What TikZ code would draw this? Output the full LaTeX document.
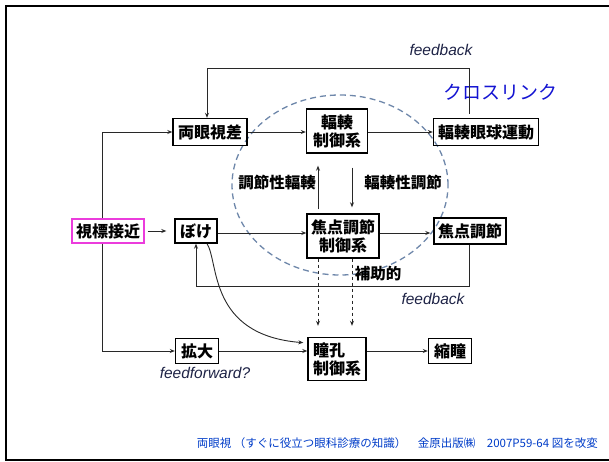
\documentclass[tikz,border=0pt]{standalone}
\usepackage{fontspec}
\setmainfont{Liberation Sans}
\newfontfamily\jp{Noto Sans CJK JP}
\usetikzlibrary{arrows.meta,calc}
\definecolor{dashblue}{RGB}{110,135,170}
\definecolor{mag}{RGB}{235,60,220}
\definecolor{fbcol}{RGB}{30,35,70}
\definecolor{xblue}{RGB}{20,20,210}
\definecolor{footblue}{RGB}{0,60,200}
\definecolor{linegray}{RGB}{40,40,40}
\tikzset{
  box/.style={draw, line width=1.4pt, inner sep=0pt, align=center,
    font=\jp\bfseries\fontsize{16}{18}\selectfont},
  arr/.style={draw=linegray, line width=0.9pt, -{Stealth[length=5pt,width=4pt]}},
  lbl/.style={font=\jp\bfseries\fontsize{15.5}{17}\selectfont, inner sep=0pt},
  fb/.style={font=\itshape\fontsize{15.5}{17}\selectfont, text=fbcol, inner sep=0pt},
  frame/.style={line width=2.2pt, black},
}
\begin{document}
\begin{tikzpicture}[x=1pt,y=-1pt]
\useasboundingbox (0,0) rectangle (609,462);
% frame
\draw[frame] (609,6) -- (6,6) -- (6,460) -- (609,460);
% dashed ellipse
\draw[dashblue, line width=1.3pt, dash pattern=on 6pt off 4pt] (340,185) ellipse [x radius=108pt, y radius=90pt];
% nodes
\node[box, minimum width=74pt, minimum height=27pt] (ryo) at (210,132) {両眼視差};
\node[box, minimum width=61pt, minimum height=44pt] (vcs) at (337,131) {輻輳\\制御系};
\node[box, minimum width=105pt, minimum height=27pt] (vem) at (486,132) {輻輳眼球運動};
\node[box, draw=mag, minimum width=72pt, minimum height=24pt] (shi) at (108,231) {視標接近};
\node[box, minimum width=42pt, minimum height=24pt] (boke) at (196,231) {ぼけ};
\node[box, minimum width=72pt, minimum height=44pt] (acs) at (343,236) {焦点調節\\制御系};
\node[box, minimum width=72pt, minimum height=26pt] (acc) at (470,231) {焦点調節};
\node[box, minimum width=43pt, minimum height=25pt] (kaku) at (197,351) {拡大};
\node[box, align=left, minimum width=58pt, minimum height=43pt] (pcs) at (337,359) {瞳孔\\制御系};
\node[box, minimum width=43pt, minimum height=25pt] (shuku) at (450,351) {縮瞳};
% labels
\node[fb] (fbtop) at (441,50) {feedback};
\node[font=\jp\fontsize{19}{21}\selectfont, text=xblue, inner sep=0pt] (cross) at (500,92) {クロスリンク};
\node[lbl] (l1) at (277,183) {調節性輻輳};
\node[lbl] (l2) at (403,183) {輻輳性調節};
\node[lbl] (l3) at (378,274) {補助的};
\node[fb] (fbbot) at (433,299) {feedback};
\node[fb] (ff) at (205,373) {feedforward?};
\node[anchor=east, font=\jp\fontsize{11.5}{13}\selectfont, text=footblue, inner sep=0pt] (foot) at (598,443) {両眼視 （すぐに役立つ眼科診療の知識）　金原出版㈱　2007P59-64 図を改変};
% connectors
\draw[arr] (ryo.east) -- (ryo.east -| vcs.west);
\draw[arr] (vcs.east |- ryo.east) -- (vcs.east |- ryo.east -| vem.west);
\draw[arr, shorten <=3pt, shorten >=8pt] (shi.east) -- (boke.west);
\draw[arr] (boke.east |- 0,233) -- (acs.west |- 0,233);
\draw[arr, shorten >=3pt] (acs.east |- 0,233) -- (acc.west |- 0,233);
\draw[arr, shorten <=4pt, shorten >=12pt] ([xshift=-25pt]acs.north) -- ([xshift=-25pt]acs.north |- vcs.south);
\draw[arr, shorten <=14pt, shorten >=6pt] ([xshift=9pt]acs.north |- vcs.south) -- ([xshift=9pt]acs.north);
\draw[arr, dashed, shorten >=11pt] ([xshift=-25pt]acs.south) -- ([xshift=-25pt]acs.south |- pcs.north);
\draw[arr, dashed, shorten >=11pt] ([xshift=9pt]acs.south) -- ([xshift=9pt]acs.south |- pcs.north);
\draw[arr] ([xshift=-6pt]shi.north) |- (ryo.west);
\draw[arr] ([xshift=-6pt]shi.south) |- (kaku.west);
\draw[arr] (kaku.east) -- (kaku.east -| pcs.west);
\draw[arr] (pcs.east |- kaku.east) -- (shuku.west);
\draw[arr, shorten <=4pt] ([xshift=-17pt]vem.north) -- ([xshift=-17pt]vem.north |- 0,68) -| ([xshift=-3pt]ryo.north);
\draw[arr] ([xshift=-1pt]acc.south) -- ([xshift=-1pt]acc.south |- 0,286) -| (boke.south);
\draw[arr, shorten >=4pt] ([xshift=11pt]boke.south) .. controls (219,262) and (208,335) .. ([yshift=16pt]pcs.west);
\end{tikzpicture}
\end{document}
